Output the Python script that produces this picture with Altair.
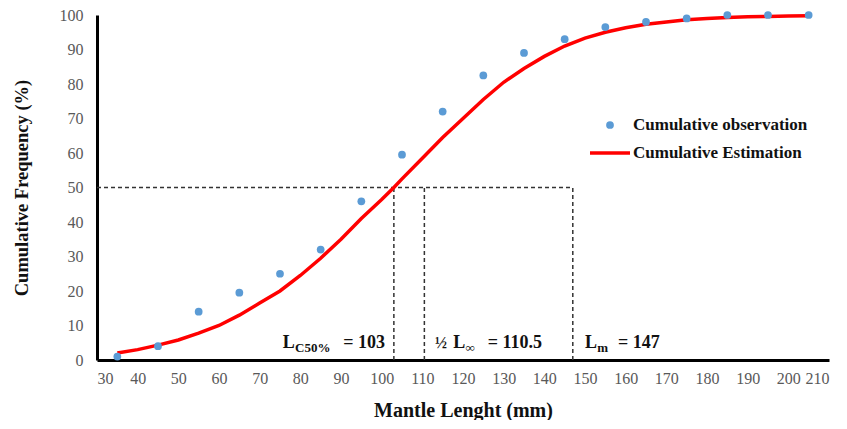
import altair as alt
import pandas as pd

# Observed cumulative frequency (%)
obs_length = [35, 45, 55, 65, 75, 85, 95, 105, 115, 125, 135, 145, 155, 165, 175, 185, 195, 205]
obs_cum = [1, 4, 14, 19.5, 25, 32, 46, 59.5, 72, 82.5, 89, 93, 96.5, 98, 99, 100, 100, 100]

# Estimated logistic curve
est_length = [35, 40, 45, 50, 55, 60, 65, 70, 75, 80, 85, 90, 95, 100, 103, 105, 110, 115, 120,
              125, 130, 135, 140, 145, 150, 155, 160, 165, 170, 175, 180, 185, 190, 195, 200, 205]
est_cum = [2, 3, 4.3, 5.8, 7.8, 10, 13, 16.5, 20, 24.5, 29.5, 35, 41, 46.5, 50, 52.5, 58.5, 64.5, 70,
           75.5, 80.5, 84.5, 88, 91, 93.3, 95, 96.3, 97.3, 98, 98.6, 99, 99.3, 99.5, 99.6, 99.7, 99.8]

# Reference lines
ref_x = [30, 103, 110.5, 147]
ref_x2 = [147, 103, 110.5, 147]
ref_y = [50, 0, 0, 0]
ref_y2 = [50, 50, 50, 50]

x_ticks = list(range(30, 211, 10))
y_ticks = list(range(0, 101, 10))

FONT = "Liberation Serif"
xs = alt.Scale(domain=[30, 210], nice=False, zero=False)
ys = alt.Scale(domain=[0, 100], nice=False)

obs_df = pd.DataFrame({"L": obs_length, "F": obs_cum})
est_df = pd.DataFrame({"L": est_length, "F": est_cum})
ref_df = pd.DataFrame({"x": ref_x, "x2": ref_x2, "y": ref_y, "y2": ref_y2})

xaxis = alt.Axis(values=x_ticks, title="Mantle Lenght (mm)", ticks=False,
                 grid=False, domainColor="black", domainWidth=3, labelColor="#595959",
                 labelFont=FONT, labelFontSize=16, labelPadding=10, labelOverlap=False,
                 titleFont=FONT, titleFontSize=20, titleFontWeight="bold", titlePadding=14,
                 titleColor="#111")
yaxis = alt.Axis(values=y_ticks, tickCount=11, title="Cumulative Frequency (%)", ticks=False,
                 grid=False, domainColor="black", domainWidth=3, labelColor="#595959",
                 labelFont=FONT, labelFontSize=16, labelPadding=14, labelOverlap=False,
                 titleFont=FONT, titleFontSize=18.5, titleFontWeight="bold", titlePadding=28,
                 titleColor="#111")

refs = alt.Chart(ref_df).mark_rule(color="#333", strokeDash=[4, 3], strokeWidth=1.5).encode(
    x=alt.X("x:Q", scale=xs, axis=xaxis), x2="x2:Q",
    y=alt.Y("y:Q", scale=ys, axis=yaxis), y2="y2:Q")

line = alt.Chart(est_df).mark_line(color="#FF0000", strokeWidth=3.5).encode(
    x=alt.X("L:Q", scale=xs, axis=xaxis), y=alt.Y("F:Q", scale=ys, axis=yaxis))

pts = alt.Chart(obs_df).mark_circle(color="#5B9BD5", opacity=1, size=60).encode(
    x=alt.X("L:Q", scale=xs, axis=xaxis), y=alt.Y("F:Q", scale=ys, axis=yaxis))

# Annotation texts in data coordinates
ann_left = pd.DataFrame({
    "x": [75.7, 150.0, 117.6],
    "y": [3.5, 3.5, 3.5],
    "t": ["L", "L", "L"],
})
ann_half = pd.DataFrame({"x": [113.1], "y": [3.5], "t": ["½"]})
ann_right = pd.DataFrame({
    "x": [100.8, 139.4, 168.4],
    "y": [3.5, 3.5, 3.5],
    "t": ["= 103", "= 110.5", "= 147"],
})
ann_sub = pd.DataFrame({
    "x": [78.7, 120.6, 153.0],
    "y": [2.3, 2.3, 2.3],
    "t": ["C50%", "∞", "m"],
})

t_left = alt.Chart(ann_left).mark_text(
    font=FONT, fontSize=18, fontWeight="bold", align="left", baseline="alphabetic", color="#111"
).encode(x=alt.X("x:Q", scale=xs, axis=xaxis), y=alt.Y("y:Q", scale=ys, axis=yaxis), text="t:N")
t_half = alt.Chart(ann_half).mark_text(
    font=FONT, fontSize=16, fontWeight="bold", align="left", baseline="alphabetic", color="#111"
).encode(x=alt.X("x:Q", scale=xs, axis=xaxis), y=alt.Y("y:Q", scale=ys, axis=yaxis), text="t:N")
t_right = alt.Chart(ann_right).mark_text(
    font=FONT, fontSize=18, fontWeight="bold", align="right", baseline="alphabetic", color="#111"
).encode(x=alt.X("x:Q", scale=xs, axis=xaxis), y=alt.Y("y:Q", scale=ys, axis=yaxis), text="t:N")
t_sub = alt.Chart(ann_sub).mark_text(
    font=FONT, fontSize=13, fontWeight="bold", align="left", baseline="alphabetic", color="#111"
).encode(x=alt.X("x:Q", scale=xs, axis=xaxis), y=alt.Y("y:Q", scale=ys, axis=yaxis), text="t:N")

# Manual legend
leg_txt1 = alt.Chart(pd.DataFrame({"t": ["Cumulative observation"]})).mark_text(
    font=FONT, fontSize=17, fontWeight="bold", align="left", baseline="middle", color="#111"
).encode(x=alt.value(536), y=alt.value(110), text="t:N")
leg_txt2 = alt.Chart(pd.DataFrame({"t": ["Cumulative Estimation"]})).mark_text(
    font=FONT, fontSize=17, fontWeight="bold", align="left", baseline="middle", color="#111"
).encode(x=alt.value(536), y=alt.value(138), text="t:N")
leg_pt = alt.Chart(pd.DataFrame({"a": [0]})).mark_circle(color="#5B9BD5", size=60, opacity=1).encode(
    x=alt.value(513), y=alt.value(110))
leg_ln = alt.Chart(pd.DataFrame({"a": [0]})).mark_rule(color="#FF0000", strokeWidth=3.5).encode(
    x=alt.value(493), x2=alt.value(533), y=alt.value(138))

chart = alt.layer(refs, line, pts, t_left, t_half, t_right, t_sub,
                  leg_txt1, leg_txt2, leg_pt, leg_ln).properties(
    width=732, height=345,
    autosize=alt.AutoSizeParams(type="none"),
    padding={"left": 89, "top": 7, "right": 10, "bottom": 60},
).configure_view(stroke=None)

chart.save("out.html", embed_options={"renderer": "svg", "actions": False})
